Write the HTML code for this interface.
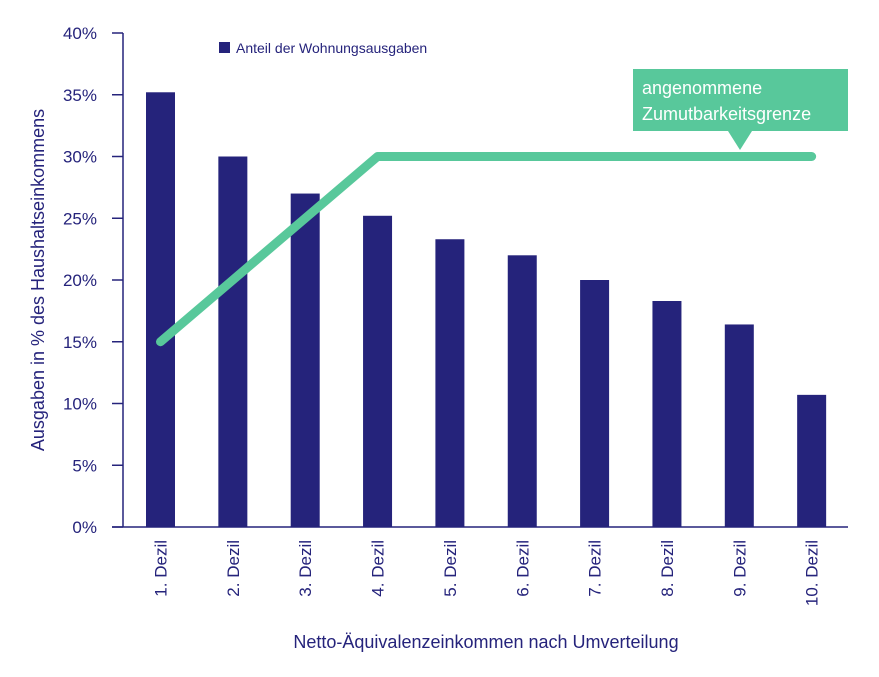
<!DOCTYPE html>
<html><head><meta charset="utf-8"><style>
body{margin:0;background:#fff;font-family:"Liberation Sans",sans-serif}
</style></head><body>
<svg id="c" width="879" height="672" xmlns="http://www.w3.org/2000/svg"></svg>
<script>
const categories=["1. Dezil","2. Dezil","3. Dezil","4. Dezil","5. Dezil","6. Dezil","7. Dezil","8. Dezil","9. Dezil","10. Dezil"];
const shareValues=[35.2,30,27,25.2,23.3,22,20,18.3,16.4,10.7];
const limitValues=[15,20,25,30,30,30,30,30,30,30];
const yTicks=[0,5,10,15,20,25,30,35,40];
const NS="http://www.w3.org/2000/svg";
const svg=document.getElementById('c');
const navy="#25237b",green="#58c89b";
function y(v){return 527-v*(494/40);}
function x(i){return 160.5+i*72.35;}
function el(t,a,p){const e=document.createElementNS(NS,t);for(const k in a)e.setAttribute(k,a[k]);(p||svg).appendChild(e);return e;}
// y ticks
yTicks.forEach(v=>{
 const t=el('text',{x:97,y:y(v)+6,'text-anchor':'end','font-size':17,fill:navy});t.textContent=v+'%';
 
 
 const l=el('line',{x1:112,x2:123,y1:y(v),y2:y(v),stroke:navy,'stroke-width':1.5});
 
 
});
const ya=el('line',{x1:123,x2:123,y1:33,y2:527,stroke:navy,'stroke-width':1.5});


// bars
shareValues.forEach((v,i)=>{
 const r=el('rect',{x:x(i)-14.5,y:y(v),width:29,height:527-y(v),fill:navy});
 
 
 const t=el('text',{transform:`translate(${x(i)+6},540) rotate(-90)`,'text-anchor':'end','font-size':17,fill:navy});
 t.textContent=categories[i];
 
 
});
const xa=el('line',{x1:112,x2:848,y1:527,y2:527,stroke:navy,'stroke-width':1.5});


// line
const pl=el('polyline',{points:limitValues.map((v,i)=>x(i)+','+y(v)).join(' '),fill:'none',stroke:green,'stroke-width':9,'stroke-linecap':'round','stroke-linejoin':'round'});


// callout
const g=el('g',{});


el('rect',{x:633,y:69,width:215,height:62,fill:green},g);
el('polygon',{points:'728,131 752,131 740,150',fill:green},g);
const t1=el('text',{x:642,y:94,'font-size':18,fill:'#fff'},g);t1.textContent='angenommene';
const t2=el('text',{x:642,y:120,'font-size':18,fill:'#fff'},g);t2.textContent='Zumutbarkeitsgrenze';
// legend
const lg=el('g',{});


el('rect',{x:219,y:42,width:11,height:11,fill:navy},lg);
const lt=el('text',{x:236,y:53,'font-size':14,fill:navy},lg);lt.textContent='Anteil der Wohnungsausgaben';
// axis titles
const xt=el('text',{x:486,y:648,'text-anchor':'middle','font-size':18,fill:navy});xt.textContent='Netto-Äquivalenzeinkommen nach Umverteilung';


const yt=el('text',{transform:'translate(44,280) rotate(-90)','text-anchor':'middle','font-size':18,fill:navy});yt.textContent='Ausgaben in % des Haushaltseinkommens';


</script>
</body></html>
